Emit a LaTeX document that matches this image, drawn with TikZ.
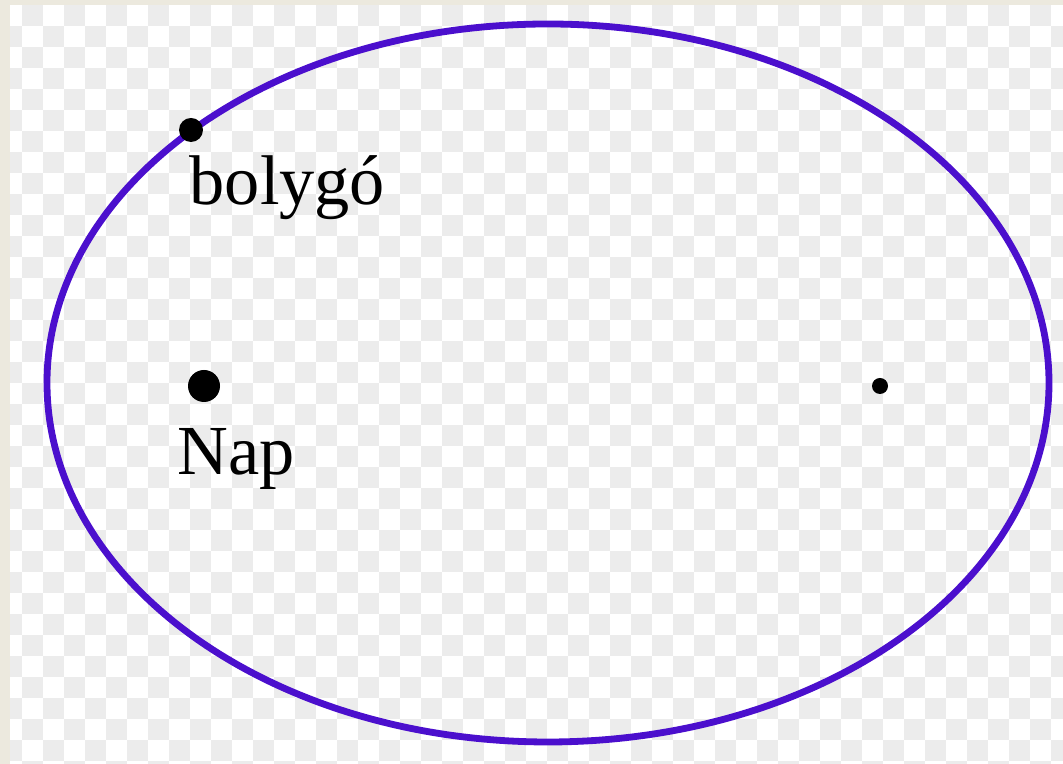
\documentclass[tikz,border=0pt]{standalone}
\usepackage{fontspec}
\setmainfont{Liberation Serif}
\definecolor{orbitblue}{RGB}{75,15,205}
\definecolor{framebeige}{RGB}{236,233,222}
\definecolor{checkgray}{RGB}{236,236,236}
\begin{document}
\begin{tikzpicture}[x=0.01cm,y=0.01cm,line cap=round,line join=round]
        \useasboundingbox (0,0) rectangle (1063,764);
        \coordinate (O) at (548,381);
        \coordinate (S) at (204,378);
        \coordinate (F) at (880,378);
        \coordinate (P) at (191,634);

        % Háttér: keret és sakktábla
        \fill[framebeige] (0,0) rectangle (1063,764);
        \fill[white] (10,0) rectangle (1063,759);
        \begin{scope}
            \clip (10,0) rectangle (1063,759);
            \foreach \i in {0,...,36}
                \foreach \j in {0,...,50} {
                    \pgfmathtruncatemacro{\odd}{mod(\i+\j,2)}
                    \ifnum\odd=1
                        \fill[checkgray] (0.7+21*\j,759-21*\i) rectangle +(21,-21);
                    \fi
                }
        \end{scope}

        % Pálya
        \draw[orbitblue,line width=0.068cm] (O) circle[x radius=501,y radius=359];

        % Nap, a másik fókusz és a bolygó
        \fill (S) circle (16);
        \fill (F) circle (8);
        \fill (P) circle (12);
        \node[anchor=base west,inner sep=0pt,font=\fontsize{20}{24}\selectfont] (nap) at (177,289) {Nap};
        \node[anchor=base west,inner sep=0pt,font=\fontsize{20}{24}\selectfont] (bolygo) at (189,559) {bolygó};

    \end{tikzpicture}
\end{document}
